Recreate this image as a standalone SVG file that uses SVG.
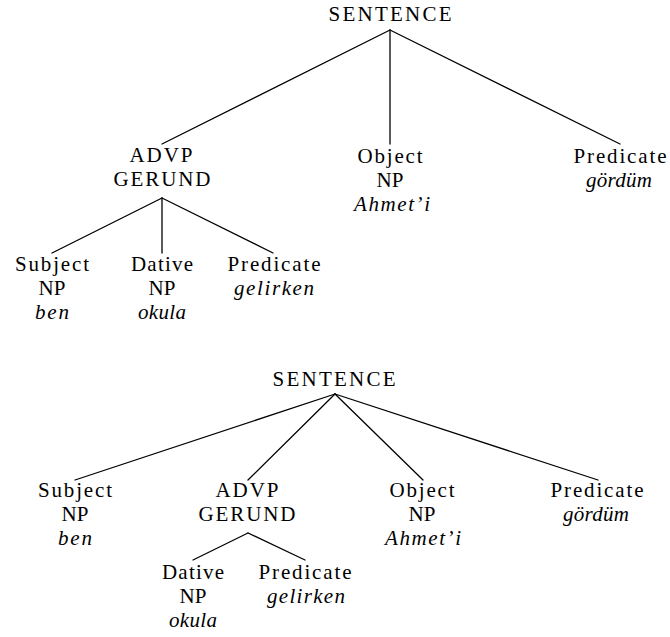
<svg xmlns="http://www.w3.org/2000/svg" width="670" height="637" viewBox="0 0 670 637">
  <style>
    text { fill: #000; text-anchor: middle; }
    .edges line { stroke: #000; stroke-width: 1.3; stroke-linecap: round; }
  </style>
  <rect width="670" height="637" fill="#fff"/>

  <!-- Tree 1: ADVP/GERUND as a sister of Object and Predicate -->
  <g class="edges" id="edges-1">
    <line x1="390" y1="30" x2="162" y2="144"/>
    <line x1="390" y1="30" x2="390" y2="144"/>
    <line x1="390" y1="30" x2="620" y2="144"/>
    <line x1="162" y1="198" x2="52" y2="253"/>
    <line x1="162" y1="198" x2="162" y2="253"/>
    <line x1="162" y1="198" x2="273" y2="253"/>
  </g>

  <g font-family="Liberation Serif" font-size="21">
    <g id="t1-sentence"><text x="390" y="21" textLength="123" lengthAdjust="spacing">SENTENCE</text></g>
    <g id="t1-advp">
      <text x="161" y="162" textLength="63" lengthAdjust="spacing">ADVP</text>
      <text x="162" y="186" textLength="97" lengthAdjust="spacing">GERUND</text>
    </g>
    <g id="t1-object">
      <text x="390" y="163" textLength="65" lengthAdjust="spacing">Object</text>
      <text x="390" y="187">NP</text>
      <text font-style="italic" x="392" y="211" textLength="76" lengthAdjust="spacing">Ahmet’i</text>
    </g>
    <g id="t1-predicate">
      <text x="620" y="163" textLength="93" lengthAdjust="spacing">Predicate</text>
      <text font-style="italic" x="619" y="187" textLength="66" lengthAdjust="spacing">gördüm</text>
    </g>
    <g id="t1-subject">
      <text x="52" y="271" textLength="74" lengthAdjust="spacing">Subject</text>
      <text x="52" y="295">NP</text>
      <text font-style="italic" x="52" y="319" textLength="34" lengthAdjust="spacing">ben</text>
    </g>
    <g id="t1-dative">
      <text x="162" y="271" textLength="62" lengthAdjust="spacing">Dative</text>
      <text x="162" y="295">NP</text>
      <text font-style="italic" x="162" y="319" textLength="48" lengthAdjust="spacing">okula</text>
    </g>
    <g id="t1-gerund-predicate">
      <text x="274" y="271" textLength="93" lengthAdjust="spacing">Predicate</text>
      <text font-style="italic" x="274" y="295" textLength="80" lengthAdjust="spacing">gelirken</text>
    </g>
  </g>

  <!-- Tree 2: Subject lifted to the sentence level -->
  <g class="edges" id="edges-2">
    <line x1="335" y1="394" x2="75" y2="480"/>
    <line x1="335" y1="394" x2="248" y2="480" stroke-width="1"/>
    <line x1="335" y1="394" x2="423" y2="480" stroke-width="1"/>
    <line x1="335" y1="394" x2="598" y2="480"/>
    <line x1="248" y1="533" x2="193" y2="560"/>
    <line x1="248" y1="533" x2="305" y2="560"/>
  </g>

  <g font-family="Liberation Serif" font-size="21">
    <g id="t2-sentence"><text x="334" y="386" textLength="123" lengthAdjust="spacing">SENTENCE</text></g>
    <g id="t2-subject">
      <text x="75" y="497" textLength="74" lengthAdjust="spacing">Subject</text>
      <text x="75" y="521">NP</text>
      <text font-style="italic" x="75" y="545" textLength="34" lengthAdjust="spacing">ben</text>
    </g>
    <g id="t2-advp">
      <text x="247" y="497" textLength="63" lengthAdjust="spacing">ADVP</text>
      <text x="247" y="521" textLength="97" lengthAdjust="spacing">GERUND</text>
    </g>
    <g id="t2-object">
      <text x="422" y="497" textLength="65" lengthAdjust="spacing">Object</text>
      <text x="422" y="521">NP</text>
      <text font-style="italic" x="423" y="545" textLength="76" lengthAdjust="spacing">Ahmet’i</text>
    </g>
    <g id="t2-predicate">
      <text x="597" y="497" textLength="93" lengthAdjust="spacing">Predicate</text>
      <text font-style="italic" x="596" y="521" textLength="66" lengthAdjust="spacing">gördüm</text>
    </g>
    <g id="t2-dative">
      <text x="193" y="579" textLength="62" lengthAdjust="spacing">Dative</text>
      <text x="193" y="603">NP</text>
      <text font-style="italic" x="193" y="627" textLength="48" lengthAdjust="spacing">okula</text>
    </g>
    <g id="t2-gerund-predicate">
      <text x="305" y="579" textLength="93" lengthAdjust="spacing">Predicate</text>
      <text font-style="italic" x="306" y="603" textLength="78" lengthAdjust="spacing">gelirken</text>
    </g>
  </g>
</svg>
